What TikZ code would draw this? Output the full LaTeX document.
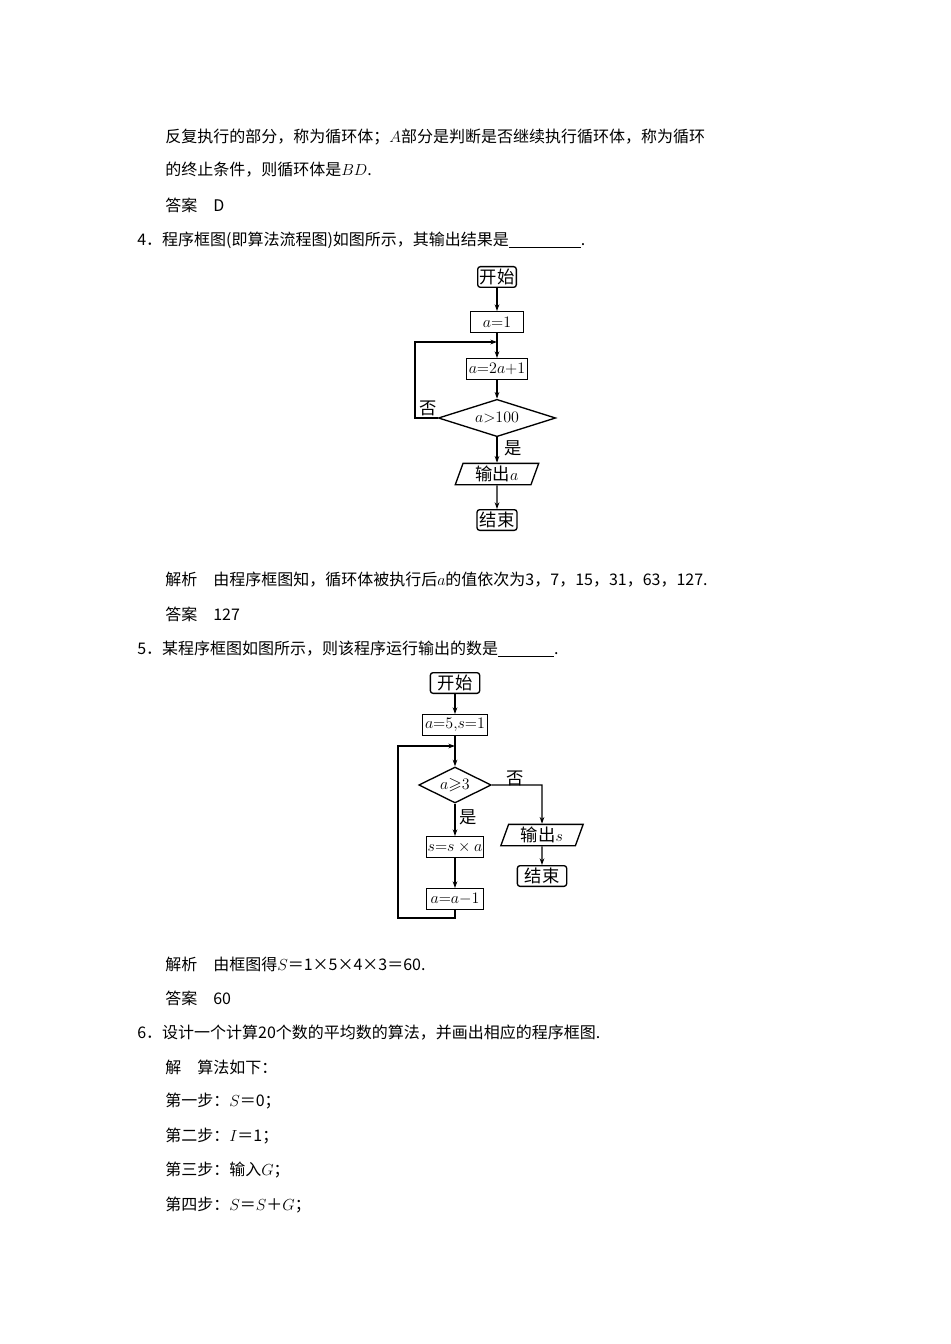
\documentclass[tikz,border=0pt]{standalone}
\usepackage{amssymb}
\usepackage{fontspec}
\setmainfont{Liberation Serif}
\newfontfamily\cjk{Noto Sans CJK SC}
\usetikzlibrary{shapes.geometric,arrows.meta}
\begin{document}
\begin{tikzpicture}[x=0.75pt,y=-0.75pt,
 txt/.style={anchor=west,inner sep=0pt,font=\cjk\fontsize{12}{14}\selectfont},
 fc/.style={font=\cjk\fontsize{13}{15}\selectfont,inner sep=0pt},
 proc/.style={fc,draw,line width=1pt,minimum height=15.5pt},
 term/.style={proc,rounded corners=2pt},
 dec/.style={fc,draw,line width=1pt,diamond,aspect=3.2,inner sep=0pt},
 io/.style={fc,draw,line width=1pt,trapezium,trapezium left angle=70,trapezium right angle=110,minimum height=16pt,inner xsep=3pt},
 ar/.style={-{Stealth[length=5pt,width=3.5pt]},line width=0.8pt}]
\useasboundingbox[fill=white] (0,0) rectangle (950,1344);
% text
\node[txt] (t1) at (165,137) {反复执行的部分，称为循环体；$A$部分是判断是否继续执行循环体，称为循环};
\node[txt] (t2) at (165,170) {的终止条件，则循环体是$BD$.};
\node[txt] (t3) at (165,205) {答案\quad D};
\node[txt] (t4) at (137,240) {4．程序框图(即算法流程图)如图所示，其输出结果是\underline{\hspace{4.5em}}.};
\node[txt] (t5) at (165,580) {解析\quad 由程序框图知，循环体被执行后$a$的值依次为3，7，15，31，63，127.};
\node[txt] (t6) at (165,614) {答案\quad 127};
\node[txt] (t7) at (137,649) {5．某程序框图如图所示，则该程序运行输出的数是\underline{\hspace{3.5em}}.};
\node[txt] (t8) at (165,964) {解析\quad 由框图得$S$＝1×5×4×3＝60.};
\node[txt] (t9) at (165,998) {答案\quad 60};
\node[txt] (t10) at (137,1033) {6．设计一个计算20个数的平均数的算法，并画出相应的程序框图.};
\node[txt] (t11) at (165,1067) {解\quad 算法如下：};
\node[txt] (t12) at (165,1101) {第一步：$S$＝0；};
\node[txt] (t13) at (165,1136) {第二步：$I$＝1；};
\node[txt] (t14) at (165,1170) {第三步：输入$G$；};
\node[txt] (t15) at (165,1205) {第四步：$S$＝$S$＋$G$；};
% flowchart 1
\node[term,minimum width=29pt] (a0) at (497,277) {开始};
\node[proc,minimum width=40pt] (a1) at (497,322) {$a{=}1$};
\node[proc,minimum width=46pt] (a2) at (497,369) {$a{=}2a{+}1$};
\node[dec,minimum width=88pt,minimum height=28pt] (a3) at (497,418) {$a{>}100$};
\node[io,minimum width=44pt] (a4) at (497,474) {输出$a$};
\node[term,minimum width=30pt] (a5) at (497,520) {结束};
\coordinate (aj) at (497,342);
\coordinate (al) at (415,418);
\draw[ar] (a0) -- (a1);
\draw[ar] (a1) -- (a2);
\draw[ar] (a2) -- (a3);
\draw[ar] (a3) -- (a4);
\draw[ar] (a4) -- (a5);
\draw[ar] (a3.west) -- (al) |- (aj);
\node[fc] (no1) at (428,408) {否};
\node[fc] (yes1) at (513,448) {是};
% flowchart 2
\node[term,minimum width=37pt] (b0) at (455,683) {开始};
\node[proc,minimum width=49pt] (b1) at (455,725) {$a{=}5{,}s{=}1$};
\node[dec,minimum width=53pt,minimum height=27pt] (b2) at (455,785) {$a{\geqslant}3$};
\node[proc,minimum width=43pt] (b3) at (455,847) {$s{=}s\times a$};
\node[proc,minimum width=43pt] (b4) at (455,899) {$a{=}a{-}1$};
\node[io,minimum width=44pt] (b5) at (542,835) {输出$s$};
\node[term,minimum width=37pt] (b6) at (542,876) {结束};
\coordinate (bj) at (455,746);
\coordinate (bb) at (455,918);
\coordinate (bl) at (398,918);
\coordinate (br) at (542,785);
\draw[ar] (b0) -- (b1);
\draw[ar] (b1) -- (b2);
\draw[ar] (b2) -- (b3);
\draw[ar] (b3) -- (b4);
\draw[ar] (b4.south) -- (bb) -- (bl) |- (bj);
\draw[ar] (b2.east) -- (br) -- (b5);
\draw[ar] (b5) -- (b6);
\node[fc] (no2) at (515,778) {否};
\node[fc] (yes2) at (468,817) {是};
\end{tikzpicture}
\end{document}
